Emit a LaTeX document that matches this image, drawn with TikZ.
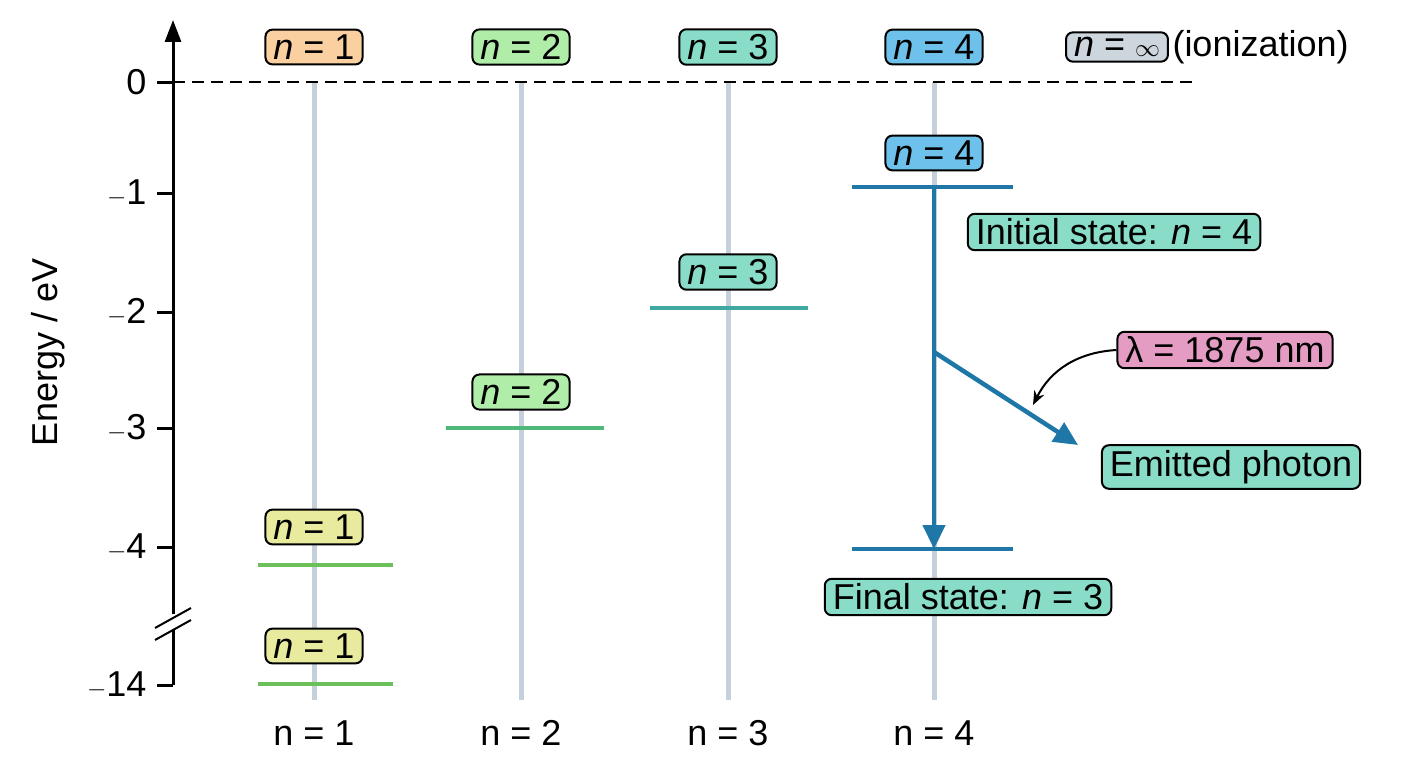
\documentclass[tikz,border=0pt]{standalone}
\usepackage{fontspec}
\setmainfont{Liberation Sans}
\usetikzlibrary{arrows.meta,positioning}
\definecolor{cone}{HTML}{FAD0A0}
\definecolor{ctwo}{HTML}{B0EDA8}
\definecolor{cthree}{HTML}{88DCC8}
\definecolor{cfour}{HTML}{6EC1EA}
\definecolor{cinf}{HTML}{CDD5DD}
\definecolor{cyel}{HTML}{E8EB9E}
\definecolor{cpink}{HTML}{E59CC3}
\definecolor{ctrans}{HTML}{1F77A8}
\definecolor{cgrid}{HTML}{C5D0DA}
\definecolor{clvlone}{HTML}{6CC05A}
\definecolor{clvltwo}{HTML}{4DB878}
\definecolor{clvlthree}{HTML}{3FA8A0}
\tikzset{
  lab/.style={draw=black, line width=2pt, rounded corners=7pt, inner xsep=8pt, inner ysep=5pt,
    font=\fontsize{36}{40}\selectfont},
  lvl/.style={line width=4.5pt},
  tick/.style={font=\fontsize{36}{40}\selectfont, anchor=east}
}
\begin{document}
\begin{tikzpicture}[x=1pt,y=-1pt]
\useasboundingbox (0,0) rectangle (1408,768);
% grey column lines
\foreach \x/\n in {314/1,521/2,728/3,934/4}{
  \draw[cgrid, line width=5pt] (\x,82) -- (\x,700);
  \node[font=\fontsize{36}{40}\selectfont] (b\n) at (\x,733) {n = \n};
}
% axis
\coordinate (ax0) at (173,685);
\coordinate (ax1) at (173,20);
\draw[line width=3pt] (ax0) -- (173,629);
\draw[line width=3pt, -{Triangle[length=22pt,width=16pt]}] (173,614) -- (ax1);
\draw[line width=2pt] (155,640) -- (191,620) (155,628) -- (191,608);
\foreach \y/\t in {82/0,193/$-$1,312/$-$2,428/$-$3,547/$-$4,685/$-$14}{
  \draw[line width=3pt] (157,\y) -- (173,\y);
  \node[tick] at (150,\y) {\t};
}
\node[rotate=90, font=\fontsize{36}{40}\selectfont] (elab) at (48,352) {Energy / eV};
\draw[line width=2.5pt, dash pattern=on 12pt off 7pt] (173,82) -- (1195,82);
% top labels
\node[lab, fill=cone] (t1) at (314,47) {\textit{n} = 1};
\node[lab, fill=ctwo] (t2) at (521,47) {\textit{n} = 2};
\node[lab, fill=cthree] (t3) at (728,47) {\textit{n} = 3};
\node[lab, fill=cfour] (t4) at (934,47) {\textit{n} = 4};
\node[lab, fill=cinf] (tinf) at (1117,47) {\textit{n} = $\infty$};
\node[right=0pt of tinf, font=\fontsize{36}{40}\selectfont] (ion) {(ionization)};
% levels
\draw[lvl, clvlone] (258,565) -- (393,565);
\draw[lvl, clvlone] (258,684) -- (393,684);
\draw[lvl, clvltwo] (446,428) -- (604,428);
\draw[lvl, clvlthree] (650,308) -- (808,308);
\draw[lvl, ctrans] (852,187) -- (1013,187);
\draw[lvl, ctrans] (852,549) -- (1013,549);
\node[lab, fill=cyel] (l1a) at (314,527) {\textit{n} = 1};
\node[lab, fill=cyel] (l1b) at (314,646) {\textit{n} = 1};
\node[lab, fill=ctwo] (l2) at (521,392) {\textit{n} = 2};
\node[lab, fill=cthree] (l3) at (728,272) {\textit{n} = 3};
\node[lab, fill=cfour] (l4) at (934,153) {\textit{n} = 4};
\node[lab, fill=cthree] (init) at (1114,232) {Initial state: \textit{n} = 4};
\node[lab, fill=cthree] (fin) at (968,597) {Final state: \textit{n} = 3};
\node[lab, fill=cpink] (lam) at (1225,350) {λ = 1875 nm};
\node[lab, fill=cthree] (phot) at (1231,467) {Emitted photon};
% transition
\coordinate (top) at (934,187);
\coordinate (bot) at (934,549);
\coordinate (split) at (934,352);
\coordinate (ptip) at (1078,445);
\coordinate (mid) at (1033,405);
\draw[ctrans, line width=4.5pt, -{Triangle[length=24pt,width=22pt]}] (top) -- (bot);
\draw[ctrans, line width=4.5pt, -{Triangle[length=24pt,width=22pt]}] (split) -- (ptip);
\draw[line width=2pt, -{Stealth[length=14pt,width=11pt]}] (lam.west) to[bend right=30] (mid);
\end{tikzpicture}
\end{document}
